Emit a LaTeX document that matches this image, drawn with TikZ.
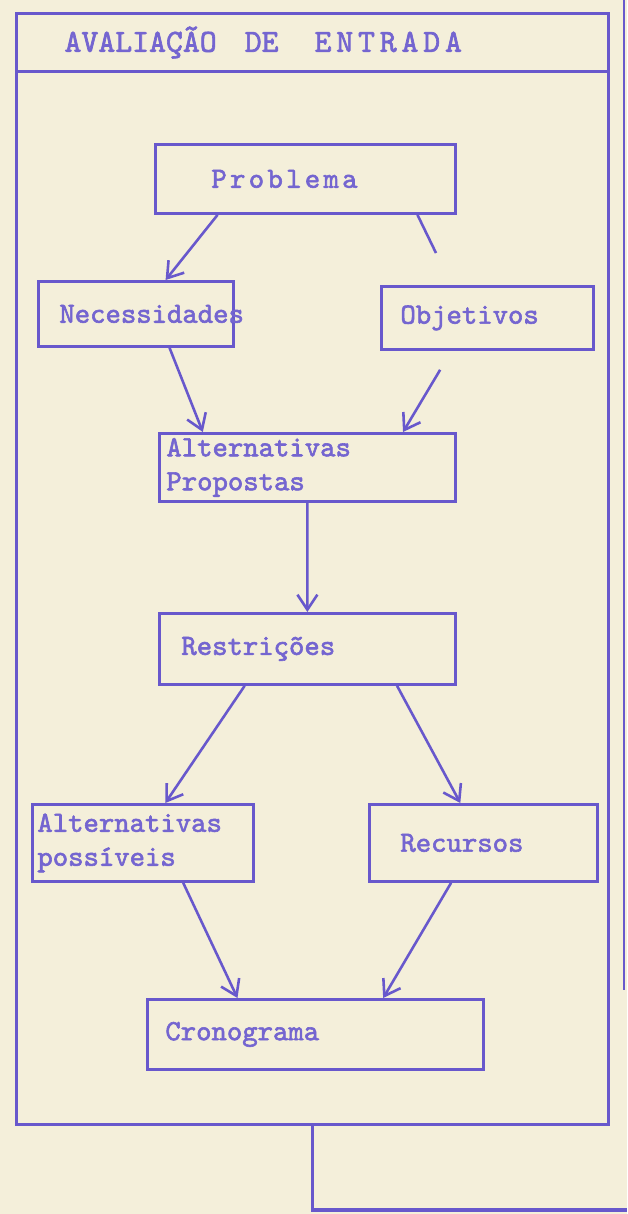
\documentclass[tikz,border=0pt]{standalone}
\usepackage{fontspec}
\newfontfamily\typewriter{lmmono10-regular}[Extension=.otf, FakeBold=2]
\usetikzlibrary{arrows.meta,calc}
\definecolor{ink}{HTML}{6858CC}
\definecolor{inklight}{HTML}{7465D0}
\definecolor{paper}{HTML}{F4EFDA}
\hyphenpenalty=10000
\tikzset{
  flowbox/.style={draw=ink, line width=2.4pt, anchor=north west, align=left, text=inklight, font=\typewriter\fontsize{25}{29}\selectfont},
  flowarrow/.style={draw=ink, line width=2.2pt, -{Straight Barb[length=4.5mm,width=6mm]}}
}

\begin{document}
\begin{tikzpicture}
\fill[paper] (0,0) rectangle (18.81,-36.42);
\useasboundingbox (0,0) rectangle (18.81,-36.42);
\node[draw=ink, line width=2.6pt, anchor=north west, minimum width=17.76cm, minimum height=33.33cm] (frame) at (0.45,-0.36) {};
\node[flowbox, line width=2.6pt, minimum width=17.76cm, minimum height=1.74cm, text width=14.88cm, inner xsep=1.44cm, font=\typewriter\fontsize{27.5}{30}\selectfont] (title) at (0.45,-0.36) {AVALIAÇÃO\hspace{0.84cm}DE\hspace{1.08cm}{\addfontfeature{LetterSpace=15}ENTRADA}};
\draw[ink, line width=2pt] (18.72,0) -- (18.72,-29.7);

\node[flowbox, minimum width=9cm, minimum height=2.07cm, inner xsep=1.68cm, text width=5.64cm] (prob) at (4.62,-4.29) {\addfontfeature{LetterSpace=11.3}Problema};
\node[flowbox, minimum width=5.85cm, minimum height=1.95cm, inner xsep=0.63cm, text width=4.59cm] (nec) at (1.11,-8.4) {Necessidades};
\node[flowbox, minimum width=6.36cm, minimum height=1.89cm, inner xsep=0.57cm, text width=5.22cm] (obj) at (11.4,-8.55) {Objetivos};
\node[flowbox, minimum width=8.88cm, minimum height=2.04cm, inner xsep=0.21cm, text width=8.46cm] (altprop) at (4.74,-12.96) {Alternativas\\Propostas};
\node[flowbox, minimum width=8.88cm, minimum height=2.13cm, inner xsep=0.66cm, text width=7.56cm] (restr) at (4.74,-18.36) {Restrições};
\node[flowbox, minimum width=6.63cm, minimum height=2.31cm, inner xsep=0.15cm, text width=6.33cm] (altposs) at (0.93,-24.09) {Alternativas\\possíveis};
\node[flowbox, minimum width=6.84cm, minimum height=2.31cm, inner xsep=0.93cm, text width=4.98cm] (rec) at (11.04,-24.09) {Recursos};
\node[flowbox, minimum width=10.08cm, minimum height=2.1cm, inner xsep=0.54cm, text width=9cm] (crono) at (4.38,-29.94) {Cronograma};

\coordinate (objtop) at (13.08,-7.59);
\coordinate (edge) at (18.81,-36.3);

\draw[flowarrow] ($(prob.south west)!0.21!(prob.south east)$) -- ($(nec.north west)!0.65!(nec.north east)$);
\draw[flowarrow, -] ($(prob.south west)!0.87!(prob.south east)$) -- (objtop);
\draw[flowarrow] ($(nec.south west)!0.67!(nec.south east)$) -- ($(altprop.north west)!0.15!(altprop.north east)$);
\draw[flowarrow] ($(obj.south west)!0.28!(obj.south east)+(0,-0.57)$) -- ($(altprop.north west)!0.82!(altprop.north east)$);
\draw[flowarrow] (altprop.south) -- (restr.north);
\draw[flowarrow] ($(restr.south west)!0.29!(restr.south east)$) -- ($(altposs.north west)!0.6!(altposs.north east)$);
\draw[flowarrow] ($(restr.south west)!0.8!(restr.south east)$) -- ($(rec.north west)!0.4!(rec.north east)$);
\draw[flowarrow] ($(altposs.south west)!0.68!(altposs.south east)$) -- ($(crono.north west)!0.27!(crono.north east)$);
\draw[flowarrow] ($(rec.south west)!0.36!(rec.south east)$) -- ($(crono.north west)!0.7!(crono.north east)$);
\draw[draw=ink, line width=2.6pt] (frame.south) |- (edge);
\end{tikzpicture}
\end{document}
